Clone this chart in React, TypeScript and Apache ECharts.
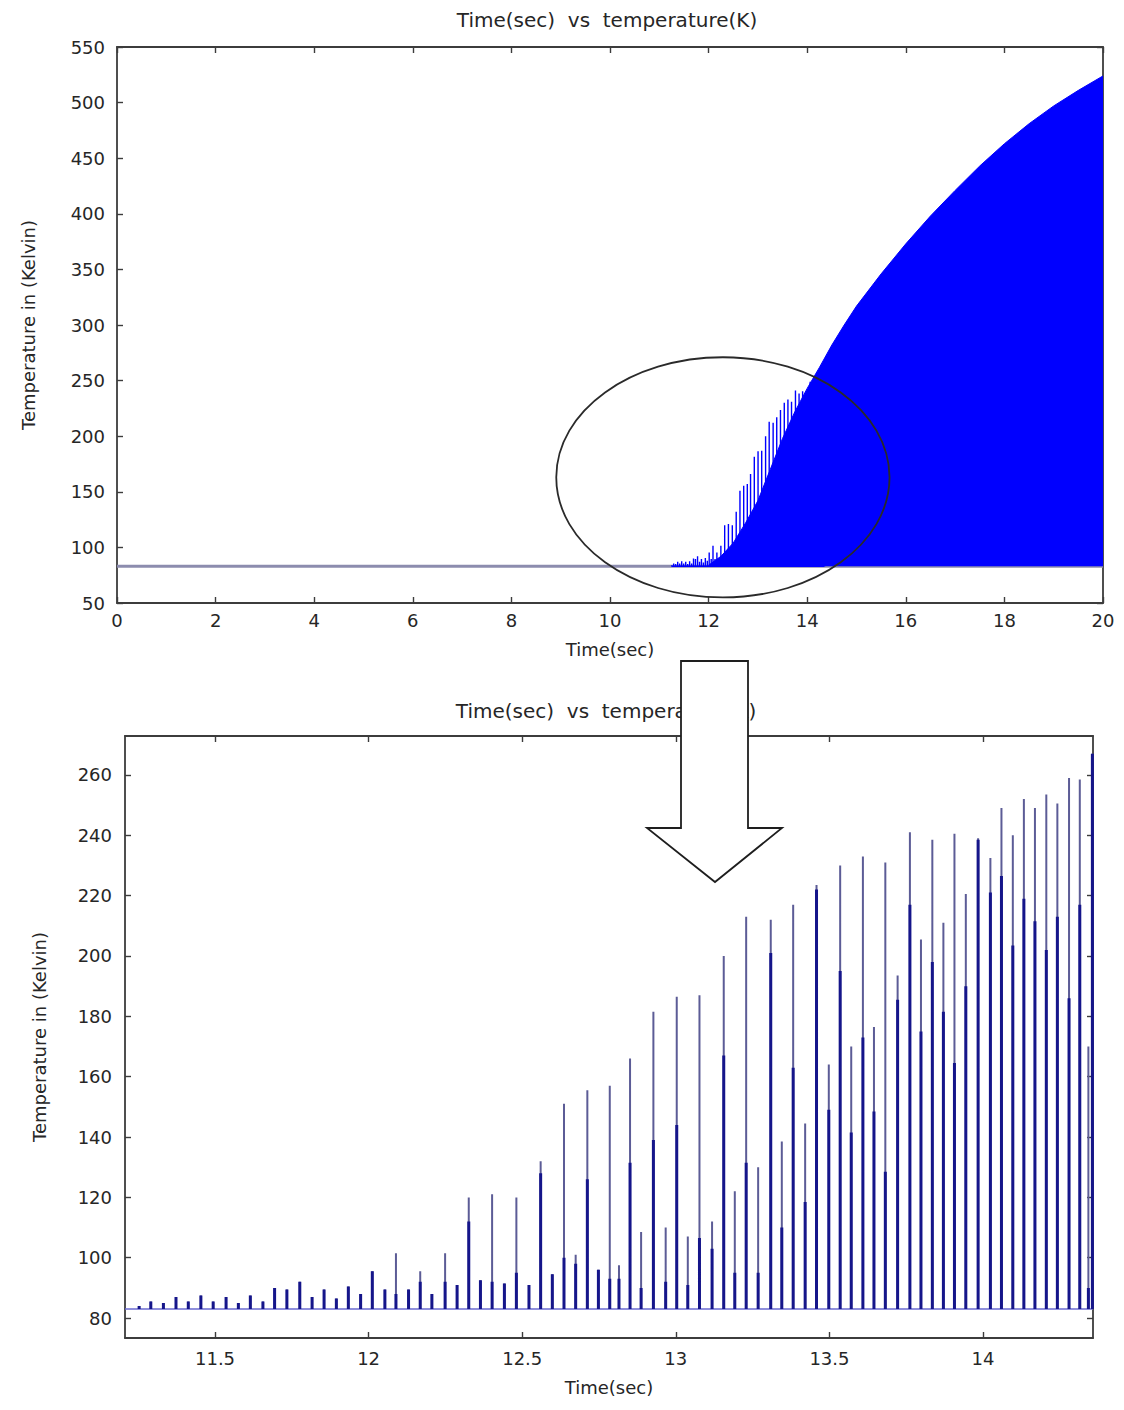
import React, { useEffect, useRef } from "react";
import * as echarts from "echarts";

// ---------------- data ----------------
const BASE_TEMP = 83; // resting temperature (K)

// spike instants (s)
const spikeTimes = [
  11.253, 11.291, 11.332, 11.373, 11.413, 11.454, 11.494, 11.536, 11.576, 11.615,
  11.656, 11.694, 11.734, 11.776, 11.816, 11.855, 11.895, 11.934, 11.974, 12.012,
  12.053, 12.089, 12.13, 12.168, 12.206, 12.249, 12.288, 12.326, 12.364, 12.402,
  12.442, 12.481, 12.522, 12.56, 12.598, 12.636, 12.674, 12.712, 12.748, 12.785,
  12.815, 12.851, 12.887, 12.927, 12.967, 13.003, 13.039, 13.077, 13.118, 13.156,
  13.192, 13.229, 13.268, 13.309, 13.345, 13.382, 13.421, 13.458, 13.498, 13.535,
  13.571, 13.609, 13.645, 13.682, 13.722, 13.762, 13.798, 13.835, 13.871, 13.907,
  13.944, 13.984, 14.024, 14.06, 14.097, 14.133, 14.169, 14.206, 14.242, 14.28,
  14.315, 14.343, 14.356,
];
// peak temperature of each spike (K)
const spikePeaks = [
  84, 85.5, 85, 87, 85.5, 87.5, 85.5, 87, 85, 87.5,
  85.5, 90, 89.5, 92, 87, 89.5, 86.5, 90.5, 88, 95.5,
  89.5, 101.5, 89.5, 95.5, 88, 101.5, 91, 120, 92.5, 121,
  91.5, 120, 91, 132, 94.5, 151, 101, 155.5, 96, 157,
  97.5, 166, 108.5, 181.5, 110, 186.5, 107, 187, 112, 200,
  122, 213, 130, 212, 138.5, 217, 144.5, 223.5, 164, 230,
  170, 233, 176.5, 231, 193.5, 241, 205.5, 238.5, 211, 240.5,
  220.5, 239, 232.5, 249, 240, 252, 249, 253.5, 250.5, 259,
  258.5, 170, 267,
];
// height of the dense (dark) core of each spike (K)
const spikeCores = [
  84, 85.5, 85, 87, 85.5, 87.5, 85.5, 87, 85, 87.5,
  85.5, 90, 89.5, 92, 87, 89.5, 86.5, 90.5, 88, 95.5,
  89.5, 88, 89.5, 92, 88, 92, 91, 112, 92.5, 92,
  91.5, 95, 91, 128, 94.5, 100, 98, 126, 96, 93,
  93, 131.5, 90, 139, 92, 144, 91, 106.5, 103, 167,
  95, 131.5, 95, 201, 110, 163, 118.5, 222, 149, 195,
  141.5, 173, 148.5, 128.5, 185.5, 217, 175, 198, 181.5, 164.5,
  190, 238.5, 221, 226.5, 203.5, 219, 211.5, 202, 213, 186,
  217, 90, 267,
];

// upper edge of the dense oscillation band in the full run
const fillTimes = [12.0, 12.25, 12.5, 12.75, 13.0, 13.25, 13.5, 13.75, 14.0, 14.25, 14.5, 14.75, 15.0, 15.5, 16.0, 16.5, 17.0, 17.5, 18.0, 18.5, 19.0, 19.5, 20.0];
const fillValues = [84, 92, 104, 122, 142, 170, 198, 222, 243, 262, 282, 300, 317, 346, 373, 398, 421, 443, 463, 481, 497, 511, 524];

// axes
const topXRange = [0, 20];
const topYRange = [50, 550];
const topXInterval = 2;
const topYInterval = 50;
const bottomXRange = [11.207, 14.358];
const bottomYRange = [73.4, 272.9];
const bottomXTicks = [11.5, 12, 12.5, 13, 13.5, 14];
const bottomYTicks = [80, 100, 120, 140, 160, 180, 200, 220, 240, 260];

// texts
const TITLE = "Time(sec)  vs  temperature(K)";
const X_NAME = "Time(sec)";
const Y_NAME = "Temperature in (Kelvin)";

// annotation ellipse (data units of the upper plot)
const ellipseCenter = [12.29, 163];
const ellipseRadii = [3.38, 108];

// ---------------- styling ----------------
const FONT = "DejaVu Sans";
const TEXT = "#262626";
const AXIS = "#3c3c3c";

function spikeTrace(heights: number[]) {
  const pts: any[] = [];
  spikeTimes.forEach((t, i) => {
    pts.push([t, BASE_TEMP], [t, heights[i]], [t, BASE_TEMP]);
  });
  return pts;
}

function brokenTrace(heights: number[]) {
  const pts: any[] = [];
  spikeTimes.forEach((t, i) => {
    if (heights[i] > BASE_TEMP + 0.5) {
      pts.push([t, BASE_TEMP], [t, heights[i]], [t, "-"]);
    }
  });
  return pts;
}

const labelStyle = { fontFamily: FONT, fontSize: 18, color: TEXT };
const nameStyle = { fontFamily: FONT, fontSize: 18, color: TEXT };
const lineStyle = { color: AXIS, width: 1.8 };

function axis(extra: any) {
  return {
    type: "value",
    splitLine: { show: false },
    axisLine: { show: true, onZero: false, lineStyle },
    axisTick: { show: true, inside: true, length: 6, lineStyle: { color: AXIS, width: 1.4 } },
    ...extra,
  };
}

function buildOption() {
  const topX = { gridIndex: 0, min: topXRange[0], max: topXRange[1], interval: topXInterval };
  const topY = { gridIndex: 0, min: topYRange[0], max: topYRange[1], interval: topYInterval };
  const botX = { gridIndex: 1, min: bottomXRange[0], max: bottomXRange[1] };
  const botY = { gridIndex: 1, min: bottomYRange[0], max: bottomYRange[1] };
  const tickStyle = { color: AXIS, width: 1.4 };

  return {
    animation: false,
    backgroundColor: "#ffffff",
    grid: [
      { left: 117, right: 21, top: 47, height: 556 },
      { left: 125, right: 31, top: 736, height: 602 },
    ],
    xAxis: [
      axis({
        ...topX,
        position: "bottom",
        name: X_NAME,
        nameLocation: "middle",
        nameGap: 37,
        nameTextStyle: nameStyle,
        axisLabel: { ...labelStyle, margin: 8 },
      }),
      axis({ ...topX, position: "top", axisLabel: { show: false } }),
      axis({
        ...botX,
        position: "bottom",
        name: X_NAME,
        nameLocation: "middle",
        nameGap: 40,
        nameTextStyle: nameStyle,
        axisLabel: { ...labelStyle, margin: 11, customValues: bottomXTicks },
        axisTick: { show: true, inside: true, length: 6, customValues: bottomXTicks, lineStyle: tickStyle },
      }),
      axis({
        ...botX,
        position: "top",
        axisLabel: { show: false, customValues: bottomXTicks },
        axisTick: { show: true, inside: true, length: 6, customValues: bottomXTicks, lineStyle: tickStyle },
      }),
    ],
    yAxis: [
      axis({
        ...topY,
        position: "left",
        name: Y_NAME,
        nameLocation: "middle",
        nameGap: 80,
        nameRotate: 90,
        nameTextStyle: nameStyle,
        axisLabel: { ...labelStyle, margin: 12 },
      }),
      axis({ ...topY, position: "right", axisLabel: { show: false } }),
      axis({
        ...botY,
        position: "left",
        name: Y_NAME,
        nameLocation: "middle",
        nameGap: 77,
        nameRotate: 90,
        nameTextStyle: nameStyle,
        axisLabel: { ...labelStyle, margin: 13, customValues: bottomYTicks },
        axisTick: { show: true, inside: true, length: 6, customValues: bottomYTicks, lineStyle: tickStyle },
      }),
      axis({
        ...botY,
        position: "right",
        axisLabel: { show: false, customValues: bottomYTicks },
        axisTick: { show: true, inside: true, length: 6, customValues: bottomYTicks, lineStyle: tickStyle },
      }),
    ],
    series: [
      {
        name: "baseline",
        type: "line",
        xAxisIndex: 0,
        yAxisIndex: 0,
        data: [[topXRange[0], BASE_TEMP], [topXRange[1], BASE_TEMP]],
        symbol: "none",
        lineStyle: { color: "#8c8cae", width: 3 },
        z: 2,
      },
      {
        name: "oscillation band",
        type: "line",
        xAxisIndex: 0,
        yAxisIndex: 0,
        data: fillTimes.map((t, i) => [t, fillValues[i]]),
        symbol: "none",
        lineStyle: { color: "#0000ff", width: 1 },
        areaStyle: { color: "#0000ff", opacity: 1, origin: BASE_TEMP },
        z: 3,
      },
      {
        name: "spikes (full run)",
        type: "line",
        xAxisIndex: 0,
        yAxisIndex: 0,
        data: spikeTrace(spikePeaks),
        symbol: "none",
        lineStyle: { color: "#0000ff", width: 1.4 },
        z: 4,
      },
      {
        name: "baseline (zoom)",
        type: "line",
        xAxisIndex: 2,
        yAxisIndex: 2,
        data: [[bottomXRange[0], BASE_TEMP], [bottomXRange[1], BASE_TEMP]],
        symbol: "none",
        lineStyle: { color: "#6a6ad0", width: 1.6 },
        z: 2,
      },
      {
        name: "spikes",
        type: "line",
        xAxisIndex: 2,
        yAxisIndex: 2,
        data: brokenTrace(spikePeaks),
        symbol: "none",
        connectNulls: false,
        lineStyle: { color: "#5c5c96", width: 2 },
        z: 3,
      },
      {
        name: "spike cores",
        type: "line",
        xAxisIndex: 2,
        yAxisIndex: 2,
        data: brokenTrace(spikeCores),
        symbol: "none",
        connectNulls: false,
        lineStyle: { color: "#15158a", width: 3 },
        z: 4,
      },
    ],
  };
}

export default function App() {
  const ref = useRef<HTMLDivElement>(null);
  useEffect(() => {
    document.body.style.margin = "0";
    const chart = echarts.init(ref.current as HTMLDivElement, null, { renderer: "svg" });
    chart.setOption(buildOption() as any);

    const finder = { xAxisIndex: 0, yAxisIndex: 0 };
    const c = chart.convertToPixel(finder as any, ellipseCenter) as number[];
    const e = chart.convertToPixel(finder as any, [
      ellipseCenter[0] + ellipseRadii[0],
      ellipseCenter[1] + ellipseRadii[1],
    ]) as number[];

    chart.setOption({
      graphic: [
        {
          type: "text",
          x: 607,
          y: 20,
          z: 10,
          style: { text: TITLE, fontFamily: FONT, fontSize: 20, fill: TEXT, align: "center", verticalAlign: "middle" },
        },
        {
          type: "text",
          x: 606,
          y: 711,
          z: 10,
          style: { text: TITLE, fontFamily: FONT, fontSize: 20, fill: TEXT, align: "center", verticalAlign: "middle" },
        },
        {
          type: "ellipse",
          z: 50,
          shape: { cx: c[0], cy: c[1], rx: Math.abs(e[0] - c[0]), ry: Math.abs(c[1] - e[1]) },
          style: { fill: "none", stroke: "#2a2a2a", lineWidth: 1.8 },
        },
        {
          type: "polygon",
          z: 100,
          shape: {
            points: [
              [681, 661],
              [681, 828],
              [647, 828],
              [715, 882],
              [782, 828],
              [748, 828],
              [748, 661],
            ],
          },
          style: { fill: "#ffffff", stroke: "#1e1e1e", lineWidth: 1.8 },
        },
      ],
    });
    return () => chart.dispose();
  }, []);
  return <div ref={ref} style={{ width: 1124, height: 1410 }} />;
}
